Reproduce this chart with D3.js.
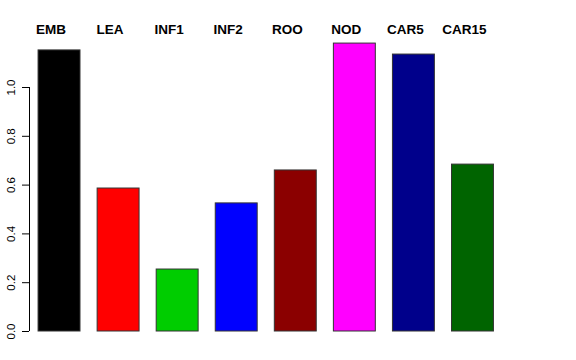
<!DOCTYPE html>
<html><head><meta charset="utf-8">
<script src="https://cdn.jsdelivr.net/npm/d3@7"></script>
<style>body{margin:0;background:#fff}svg{display:block}</style>
</head><body>
<script>
const categories = ["EMB","LEA","INF1","INF2","ROO","NOD","CAR5","CAR15"];
const values = [1.152, 0.586, 0.254, 0.525, 0.66, 1.18, 1.135, 0.684];
const colors = ["#000000","#ff0000","#00cd00","#0000ff","#8b0000","#ff00ff","#00008b","#006400"];
const yTicks = [0, 0.2, 0.4, 0.6, 0.8, 1.0];

const W = 576, H = 360;
const svg = d3.select("body").append("svg").attr("width", W).attr("height", H);

const y = d3.scaleLinear().domain([0, 1]).range([331, 87]);
const x = d3.scaleBand().domain(categories).range([29.5, 502]).paddingInner(0.29).paddingOuter(0.145);

svg.selectAll("rect.bar").data(categories).enter().append("rect")
  .attr("x", d => x(d))
  .attr("width", x.bandwidth())
  .attr("y", (d, i) => y(values[i]))
  .attr("height", (d, i) => y(0) - y(values[i]))
  .attr("fill", (d, i) => colors[i])
  .attr("stroke", "#333")
  .attr("stroke-width", 1);

svg.selectAll("text.lab").data(categories).enter().append("text")
  .attr("x", d => x(d) + x.bandwidth() / 2 - 8)
  .attr("y", 34)
  .attr("text-anchor", "middle")
  .attr("font-family", "Liberation Sans, Arial, sans-serif")
  .attr("font-weight", "bold")
  .attr("font-size", 13.5)
  .text(d => d);

const axis = d3.axisLeft(y).tickValues(yTicks).tickSize(7).tickFormat(d3.format(".1f"));
const g = svg.append("g").attr("transform", "translate(29,0)").call(axis);
g.select(".domain").attr("stroke", "#000").attr("d", `M0.5,${y(0)}V${y(1)}`).attr("fill","none");
g.selectAll(".tick line").attr("stroke", "#000");
g.selectAll(".tick text")
  .attr("font-family", "Liberation Sans, Arial, sans-serif")
  .attr("font-size", 11.5)
  .attr("fill", "#000")
  .attr("transform", "rotate(-90)")
  .attr("x", 0)
  .attr("y", -14)
  .attr("dy", 0)
  .attr("text-anchor", "middle");
</script>
</body></html>
